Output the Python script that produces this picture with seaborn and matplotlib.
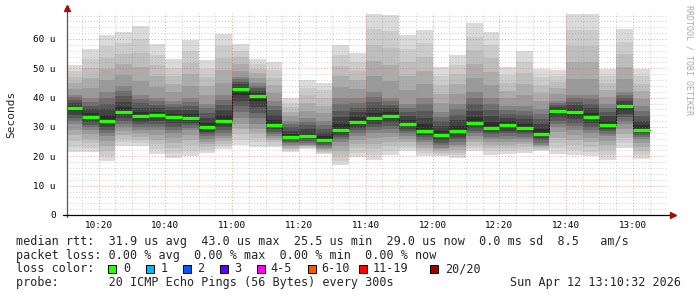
import numpy as np
import pandas as pd
import matplotlib
matplotlib.use("Agg")
import matplotlib.pyplot as plt
import seaborn as sns
from matplotlib.patches import Rectangle
from matplotlib.lines import Line2D

# ---------------- data ----------------
bar_start = pd.date_range("2026-04-12 10:10", periods=35, freq="5min")
median_rtt = [36.4, 33.3, 32.0, 35.1, 33.7, 34.0, 33.4, 33.0, 29.9, 32.2,
              43.0, 40.7, 30.6, 26.6, 26.9, 25.5, 28.9, 31.6, 32.9, 33.9,
              31.0, 28.6, 27.2, 28.6, 31.3, 29.8, 30.6, 29.7, 27.5, 35.4,
              35.1, 33.4, 30.7, 37.0, 29.0]
smoke_top = [51.2, 56.6, 61.4, 62.3, 64.6, 58.3, 53.1, 59.8, 52.8, 61.7,
             58.3, 53.1, 52.0, 39.9, 46.0, 45.1, 58.1, 55.2, 68.6, 68.2,
             61.4, 63.1, 50.3, 54.5, 65.5, 62.3, 50.6, 56.0, 49.9, 49.4,
             68.6, 68.6, 49.9, 63.4, 49.9]
smoke_upper = [41, 40, 42, 44, 41, 40, 39, 40, 38, 41,
               47, 45, 39, 32, 33, 32, 40, 40, 42, 40,
               38, 40, 35, 38, 42, 40, 37, 37, 36, 39,
               41, 41, 38, 42, 37]
smoke_lower = [31, 29, 27, 30, 29, 29, 28, 29, 26, 27,
               33, 31, 27, 24, 24, 23, 25, 27, 28, 28,
               27, 25, 23, 24, 27, 26, 26, 26, 24, 30,
               29, 28, 27, 31, 26]
smoke_bottom = [21.4, 21.4, 18.5, 23.4, 23.4, 20.8, 19.3, 20.2, 21.1, 22.5,
                23.8, 23.2, 23.2, 21.5, 22.6, 20.7, 16.9, 19.8, 18.6, 20.3,
                21.7, 20.0, 20.0, 19.4, 21.9, 20.6, 20.9, 21.1, 21.7, 20.9,
                20.6, 20.0, 18.9, 22.9, 19.2]
x_tick_pos = [20, 40, 60, 80, 100, 120, 140, 160, 180]
x_tick_labels = ["10:20", "10:40", "11:00", "11:20", "11:40",
                 "12:00", "12:20", "12:40", "13:00"]
y_tick_pos = [0, 10, 20, 30, 40, 50, 60]
y_tick_labels = ["0", "10 u", "20 u", "30 u", "40 u", "50 u", "60 u"]
loss_labels = ["0", "1", "2", "3", "4-5", "6-10", "11-19", "20/20"]
loss_colors = ["#26ff00", "#00b8ff", "#0059ff", "#5e00ff",
               "#ff00ea", "#ff5500", "#ff0000", "#a10000"]

# ---------------- figure ----------------
W, H = 697, 297
sns.set_theme(style="white")
plt.rcParams["font.family"] = ["DejaVu Sans Mono", "DejaVu Sans"]

fig = plt.figure(figsize=(W / 100, H / 100), dpi=100)
fig.patch.set_facecolor("white")

def fx(x):
    return x / W

def fy(y):
    return 1 - y / H

ax_left, ax_right, ax_bottom, ax_top = 67, 668, 215, 12.6
ax = fig.add_axes([fx(ax_left), fy(ax_bottom), fx(ax_right - ax_left),
                   (ax_bottom - ax_top) / H])
ax.set_facecolor("white")

start_minutes = np.array([(t.hour * 60 + t.minute) - 600 for t in bar_start], dtype=float)
med = np.array(median_rtt)
top = np.array(smoke_top)
up = np.array(smoke_upper)
lo = np.array(smoke_lower)
bot = np.array(smoke_bottom)

inner_cols = ["#2e2e2e", "#424242", "#585858", "#6e6e6e", "#848484"]
outer_cols = ["#9a9a9a", "#acacac", "#bebebe", "#cccccc", "#dadada"]

def draw_band(a, b, cols):
    n = len(cols)
    for i, c in enumerate(cols):
        e0 = a + (b - a) * i / n
        e1 = a + (b - a) * (i + 1) / n
        lo_e = np.minimum(e0, e1)
        ax.bar(start_minutes, np.abs(e1 - e0), bottom=lo_e, width=5, align="edge",
               color=c, linewidth=0, zorder=1)

draw_band(up, top, outer_cols)
draw_band(med, up, inner_cols)
draw_band(lo, bot, outer_cols)
draw_band(med, lo, inner_cols)

# median step connectors
step_df = pd.DataFrame({"x": np.append(start_minutes, start_minutes[-1] + 5),
                        "y": np.append(med, med[-1])})
sns.lineplot(data=step_df, x="x", y="y", drawstyle="steps-post", color="#1a1a1a",
             lw=0.7, ax=ax, zorder=2, estimator=None, sort=False)
ax.hlines(med, start_minutes, start_minutes + 5, colors=loss_colors[0], lw=2.4, zorder=3)

ax.set_xlim(10.53, 190.53)
ax.set_ylim(0, 69)
ax.set_xticks(x_tick_pos)
ax.set_xticklabels(x_tick_labels)
ax.set_xticks(np.arange(15, 190, 5), minor=True)
ax.set_yticks(y_tick_pos)
ax.set_yticklabels(y_tick_labels)
ax.set_yticks(np.arange(0, 69, 2), minor=True)
ax.set_xlabel("")
ax.set_ylabel("")

ax.set_axisbelow(False)
ax.grid(which="minor", color="#909090", alpha=0.45, ls=(0, (1, 2)), lw=0.7)
ax.grid(which="major", color="#e05050", alpha=0.55, ls=(0, (1, 2)), lw=0.7)

for s in ax.spines.values():
    s.set_visible(False)

ax.tick_params(axis="both", which="major", labelsize=6.7, length=2, width=0.6,
               color="#808080", labelcolor="#000000")
ax.tick_params(axis="y", which="major", pad=6)
ax.tick_params(axis="x", which="major", pad=4, length=0)
ax.tick_params(axis="both", which="minor", length=0)

# axes lines with arrows
fig.add_artist(Line2D([fx(67), fx(67)], [fy(217), fy(8)], color="#555555", lw=0.9))
fig.add_artist(Line2D([fx(63), fx(672)], [fy(215), fy(215)], color="#000000", lw=0.9))
fig.add_artist(Line2D([fx(67)], [fy(8)], marker="^", color="#a01010", ms=4.5, ls=""))
fig.add_artist(Line2D([fx(672.5)], [fy(215)], marker=">", color="#a01010", ms=4.5, ls=""))

# axis label and credits
fig.text(fx(11), fy(114), "Seconds", rotation=90, ha="center", va="center", fontsize=8)
fig.text(fx(688.5), fy(5), "RRDTOOL / TOBI OETIKER", rotation=270, ha="center", va="top",
         fontsize=6, color="#aaaaaa")

# legend text
fs = 8.5
fig.text(fx(16), fy(241.5),
         "median rtt:  31.9 us avg  43.0 us max  25.5 us min  29.0 us now  0.0 ms sd  8.5   am/s",
         fontsize=fs, va="center", ha="left")
fig.text(fx(16), fy(255.3),
         "packet loss: 0.00 % avg  0.00 % max  0.00 % min  0.00 % now",
         fontsize=fs, va="center", ha="left")
fig.text(fx(16), fy(269), "loss color:", fontsize=fs, va="center", ha="left")
sq_x = [108, 145.7, 182.7, 219.7, 256.7, 307.7, 358.7, 430]
lab_x = [123.3, 160.7, 197.3, 234.3, 270.7, 321.7, 372.7, 445.3]
for sx, lx, lab, col in zip(sq_x, lab_x, loss_labels, loss_colors):
    fig.add_artist(Rectangle((fx(sx), fy(273.2)), 8 / W, 8.3 / H, transform=fig.transFigure,
                             facecolor=col, edgecolor="#000000", lw=0.7))
    fig.text(fx(lx), fy(269), lab, fontsize=fs, va="center", ha="left")
fig.text(fx(16), fy(282.7), "probe:       20 ICMP Echo Pings (56 Bytes) every 300s",
         fontsize=fs, va="center", ha="left")
fig.text(fx(680.5), fy(282.7), "Sun Apr 12 13:10:32 2026", fontsize=fs, va="center", ha="right")

fig.savefig("out.png", dpi=100, facecolor="white")
